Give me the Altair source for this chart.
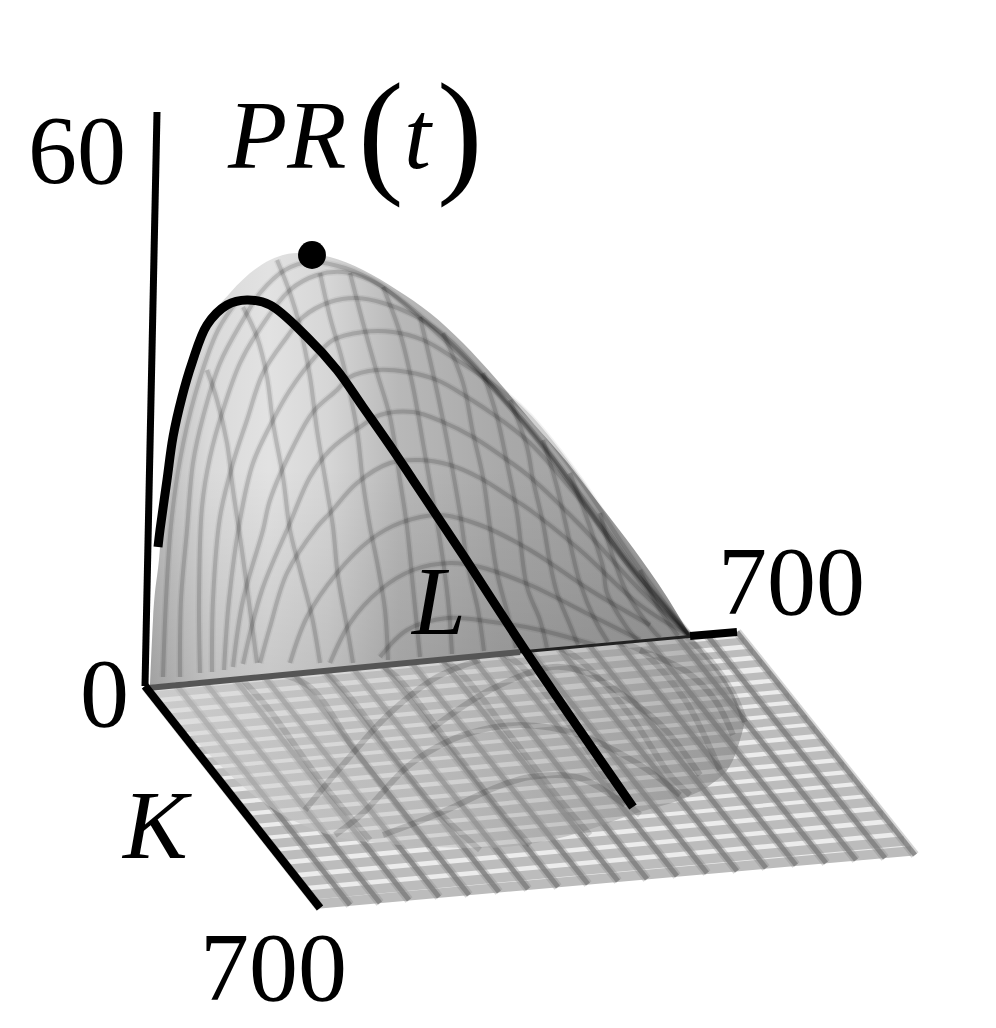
import altair as alt
import pandas as pd

FONT = "Liberation Serif"

# --- picture geometry (pixel positions of the projected 3D plot) ---
floor_x = [145, 320, 737, 915]
floor_top = [686, 670, 632, 855]
floor_bot = [686, 908, 870, 855]

row_left_x = [152,161,169,179,188,196,205,214,222,232,241,250,260,269,279,289,299,310,317]
row_left_y = [695,706,717,729,740,751,762,773,784,796,808,820,832,844,856,869,882,895,904]
row_right_x = [744,753,762,771,780,789,798,807,815,825,834,844,853,863,873,883,893,904,911]
row_right_y = [641,652,663,675,686,697,708,719,730,742,754,766,778,790,802,815,828,841,851]

col_back_x = [145,175,204,234,263,293,323,352,382,411,441,471,500,530,559,589,619,648,678,707,737]
col_back_y = [686,683,681,678,675,672,670,667,664,662,659,656,654,651,648,645,643,640,637,635,632]
col_front_x = [320,350,380,409,439,469,499,528,558,588,618,647,677,707,737,766,796,826,856,885,915]
col_front_y = [908,905,903,900,897,895,892,889,887,884,881,879,876,873,871,868,865,863,860,858,855]

shadow_x = [150,200,260,330,400,480,560,637,687,710,733,745]
shadow_top = [685,681,675,669,663,656,648,641,637,660,693,722]
shadow_bot = [690,745,800,835,845,848,838,813,797,785,760,722]

surface_x = [150,153,160,163,173,180,190,207,230,270,297,330,363,397,430,463,497,533,567,600,633,667,690]
surface_top = [684,620,547,497,430,393,363,323,293,260,253,257,270,290,313,343,380,423,462,505,548,597,635]
surface_base = [685,685,684,684,683,682,681,680,678,675,672,669,666,663,660,657,654,651,648,645,642,639,637]

grid_a = [
    [(163,677),(166,600),(171,525),(180,460),(195,395),(218,330),(238,300)],
    [(180,677),(181,600),(187,530),(193,463),(203,417),(220,363),(243,320),(260,293),(285,270),(310,262),(345,268),(380,285),(420,318),(470,365),(530,430),(600,520),(650,590),(690,636)],
    [(200,673),(199,600),(202,507),(210,457),(223,410),(240,363),(257,333),(290,290),(317,275),(343,272),(370,280),(397,297),(440,333),(490,383),(540,440),(600,525),(650,595),(690,636)],
    [(212,672),(213,600),(220,517),(233,463),(247,420),(263,373),(287,337),(303,317),(330,302),(357,298),(383,303),(417,317),(450,340),(500,395),(560,470),(620,555),(660,600),(690,636)],
    [(224,670),(229,600),(240,520),(253,463),(273,420),(290,390),(310,363),(333,340),(363,332),(393,332),(423,340),(457,360),(497,387),(530,417),(580,480),(630,555),(670,610),(690,636)],
    [(233,667),(243,600),(263,530),(270,500),(293,447),(313,412),(337,390),(350,377),(377,370),(407,372),(437,380),(467,397),(497,417),(530,443),(580,500),(630,565),(690,636)],
    [(243,664),(262,590),(290,523),(310,477),(330,450),(360,427),(380,415),(413,412),(443,422),(473,437),(503,457),(530,477),(580,525),(640,590),(690,636)],
    [(260,663),(270,627),(287,573),(317,527),(330,513),(357,483),(390,463),(420,460),(450,465),(480,478),(510,497),(530,510),(580,550),(640,605),(690,636)],
    [(290,663),(307,617),(337,573),(370,540),(400,523),(440,515),(480,525),(530,550),(590,590),(650,625)],
    [(330,663),(350,623),(380,590),(413,570),(450,563),(480,567),(530,585),(590,615),(640,640)],
    [(380,657),(407,630),(447,618),(493,622),(540,630),(595,645)],
]
grid_b = [
    [(207,370),(217,400),(227,443),(233,490),(240,537),(247,587),(257,663)],
    [(243,307),(257,337),(267,377),(273,423),(283,477),(290,530),(300,570),(312,617),(320,663)],
    [(277,260),(290,293),(300,327),(310,377),(317,430),(327,490),(333,527),(338,577),(347,627),(353,663)],
    [(320,273),(330,317),(343,363),(357,430),(363,483),(370,527),(378,567),(385,610),(388,660)],
    [(350,273),(363,323),(377,373),(390,417),(400,480),(407,527),(413,587),(420,657)],
    [(383,287),(400,333),(413,387),(423,443),(430,483),(440,540),(448,600),(452,654)],
    [(420,317),(433,373),(443,420),(452,467),(460,513),(468,567),(478,610),(484,651)],
    [(443,333),(463,383),(473,433),(483,477),(490,527),(497,573),(508,615),(516,648)],
    [(483,373),(497,417),(507,463),(517,513),(527,587),(540,620),(547,648)],
    [(510,400),(527,447),(533,480),(543,523),(550,563),(557,593),(570,625),(578,645)],
    [(543,440),(557,487),(570,543),(580,583),(595,620),(608,642)],
    [(570,473),(590,527),(603,567),(607,593),(625,625),(637,640)],
    [(600,513),(613,557),(627,593),(650,627),(660,638)],
    [(640,570),(660,610),(678,636)],
]
shadow_a = [
    [(305,810),(347,760),(390,713),(437,677),(480,660)],
    [(335,835),(363,813),(407,767),(437,747),(470,733),(520,725),(580,735),(640,765),(680,795)],
    [(383,835),(440,813),(497,787),(530,777),(580,778),(625,805)],
    [(430,730),(490,690),(553,667),(587,673),(620,693),(663,727),(700,775)],
    [(640,650),(687,672),(715,700),(733,735)],
    [(687,637),(710,660),(733,693),(745,722)],
]
shadow_b = [
    [(235,672),(267,707),(320,780),(370,840)],
    [(275,672),(310,687),(357,753),(430,847)],
    [(325,670),(350,697),(397,760),(440,813),(480,850)],
    [(380,664),(400,680),(450,745),(500,810),(530,845)],
    [(440,658),(460,672),(510,735),(560,800),(590,835)],
    [(500,652),(520,665),(570,725),(615,790),(640,815)],
    [(560,648),(580,660),(630,715),(670,775),(690,795)],
    [(620,643),(640,650),(685,700),(720,770)],
]

path_x = [158,160,167,173,182,192,207,227,247,270,307,337,363,393,413,445,463,527,633]
path_y = [547,530,480,437,397,363,325,305,300,305,337,370,407,450,480,528,555,653,807]
peak_x = [312]
peak_y = [255]

axis_z = [(157,112),(145,686)]
axis_k = [(145,686),(320,908)]
axis_l_dark = [(148,688),(520,652)]
axis_l_thin = [(520,652),(695,636)]
axis_l_end = [(690,636),(737,632)]

labels = ["60", "700", "0", "700"]
labels_x = [28, 718, 80, 200]
labels_y = [183, 614, 726, 1000]
italics = ["PR", "t", "K", "L"]
italics_x = [228, 404, 123, 412]
italics_y = [168, 168, 858, 634]
parens = ["(", ")"]
parens_x = [358, 437]
parens_y = [178, 178]

# --- scales: positions are pixels of the reference ---
X = lambda f="x": alt.X(f + ":Q", scale=alt.Scale(domain=[8, 988]), axis=None)
Y = lambda f="y": alt.Y(f + ":Q", scale=alt.Scale(domain=[1012, 8]), axis=None)


def poly_df(lines):
    return pd.DataFrame(
        [{"id": i, "o": j, "x": p[0], "y": p[1]} for i, l in enumerate(lines) for j, p in enumerate(l)]
    )


def curves(lines, color, width, opacity, interp="catmull-rom"):
    return alt.Chart(poly_df(lines)).mark_line(
        color=color, strokeWidth=width, opacity=opacity, interpolate=interp, strokeCap="butt"
    ).encode(x=X(), y=Y(), detail="id:N", order="o:Q")


def seg(points, color, width):
    return alt.Chart(poly_df([points])).mark_line(color=color, strokeWidth=width, strokeCap="butt").encode(
        x=X(), y=Y(), order="o:Q"
    )


def text(words, xs, ys, size, style="normal"):
    d = pd.DataFrame({"t": words, "x": xs, "y": ys})
    return alt.Chart(d).mark_text(
        font=FONT, fontSize=size, fontStyle=style, align="left", baseline="alphabetic", color="#000"
    ).encode(x=X(), y=Y(), text="t:N")


floor_df = pd.DataFrame({"x": floor_x, "y": floor_top, "y2": floor_bot})
floor = alt.Chart(floor_df).mark_area(color="#ececec").encode(x=X(), y=Y(), y2="y2:Q")

rows_df = pd.DataFrame({"row": range(len(row_left_x)), "x": row_left_x, "y": row_left_y, "x2": row_right_x, "y2": row_right_y})
rows = alt.Chart(rows_df).mark_rule(color="#bcbcbc").encode(
    x=X(), y=Y(), x2="x2:Q", y2="y2:Q",
    size=alt.Size("row:Q", scale=alt.Scale(domain=[0, 18], range=[7, 9.5]), legend=None),
)
cols_df = pd.DataFrame({"x": col_back_x, "y": col_back_y, "x2": col_front_x, "y2": col_front_y})
cols_soft = alt.Chart(cols_df).mark_rule(color="#8a8a8a", strokeWidth=9, opacity=0.35).encode(
    x=X(), y=Y(), x2="x2:Q", y2="y2:Q"
)
cols = alt.Chart(cols_df).mark_rule(color="#7d7d7d", strokeWidth=5, opacity=0.8).encode(
    x=X(), y=Y(), x2="x2:Q", y2="y2:Q"
)

shadow_df = pd.DataFrame({"x": shadow_x, "y": shadow_top, "y2": shadow_bot})
shadow = alt.Chart(shadow_df).mark_area(
    interpolate="monotone",
    color=alt.Gradient(
        gradient="linear", x1=0, x2=1, y1=0, y2=0,
        stops=[
            alt.GradientStop(offset=0, color="rgba(215,215,215,0.6)"),
            alt.GradientStop(offset=0.45, color="rgba(185,185,185,0.45)"),
            alt.GradientStop(offset=1, color="rgba(115,115,115,0.5)"),
        ],
    ),
).encode(x=X(), y=Y(), y2="y2:Q")

surf_df = pd.DataFrame({"x": surface_x, "y": surface_top, "y2": surface_base})
surface = alt.Chart(surf_df).mark_area(
    interpolate="monotone",
    color=alt.Gradient(
        gradient="linear", x1=0, x2=1, y1=0, y2=0,
        stops=[
            alt.GradientStop(offset=0, color="#b8b8b8"),
            alt.GradientStop(offset=0.11, color="#dadada"),
            alt.GradientStop(offset=0.22, color="#e2e2e2"),
            alt.GradientStop(offset=0.33, color="#d6d6d6"),
            alt.GradientStop(offset=0.46, color="#b8b8b8"),
            alt.GradientStop(offset=0.65, color="#a9a9a9"),
            alt.GradientStop(offset=1, color="#9c9c9c"),
        ],
    ),
).encode(x=X(), y=Y(), y2="y2:Q")
surface_shade = alt.Chart(surf_df).mark_area(
    interpolate="monotone",
    color=alt.Gradient(
        gradient="linear", x1=0, x2=0, y1=0, y2=1,
        stops=[
            alt.GradientStop(offset=0, color="rgba(0,0,0,0)"),
            alt.GradientStop(offset=0.5, color="rgba(0,0,0,0)"),
            alt.GradientStop(offset=1, color="rgba(0,0,0,0.12)"),
        ],
    ),
).encode(x=X(), y=Y(), y2="y2:Q")

path = alt.Chart(pd.DataFrame({"o": range(len(path_x)), "x": path_x, "y": path_y})).mark_line(
    color="#000", strokeWidth=9, interpolate="catmull-rom", strokeCap="butt"
).encode(x=X(), y=Y(), order="o:Q")
peak = alt.Chart(pd.DataFrame({"x": peak_x, "y": peak_y})).mark_point(
    color="#000", filled=True, opacity=1, size=780
).encode(x=X(), y=Y())

chart = alt.layer(
    floor, rows, cols_soft, cols,
    shadow,
    curves(shadow_a, "#000", 6, 0.15), curves(shadow_b, "#000", 6, 0.13),
    surface, surface_shade,
    curves(grid_a, "#000", 7, 0.05), curves(grid_b, "#000", 7, 0.05),
    curves(grid_a, "#000", 4, 0.14), curves(grid_b, "#000", 4, 0.14),
    seg(axis_l_dark, "#555", 6), seg(axis_l_thin, "#222", 3), seg(axis_l_end, "#000", 8),
    seg(axis_z, "#000", 7), seg(axis_k, "#000", 8),
    path, peak,
    text(labels, labels_x, labels_y, 98),
    text(italics, italics_x, italics_y, 97, "italic"),
    text(parens, parens_x, parens_y, 137),
).properties(width=980, height=1004, padding=0).configure_view(stroke=None)

chart.save("out.html", embed_options={"renderer": "svg", "actions": False})
